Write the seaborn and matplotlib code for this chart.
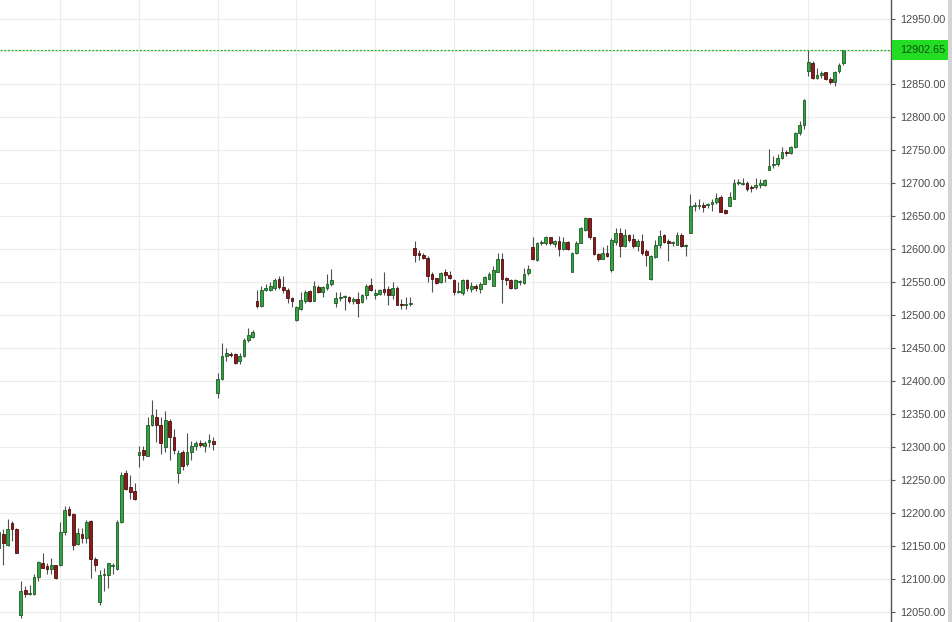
import numpy as np
import pandas as pd
import matplotlib
matplotlib.use("Agg")
import matplotlib.pyplot as plt
from matplotlib.patches import Rectangle
import seaborn as sns

# ---------------- data (OHLC per candle) ----------------
opens = [12147, 12168, 12152, 12185, 12176, 12045, 12084, 12077, 12077, 12103,
         12125, 12119, 12115, 12121, 12122, 12172, 12206, 12199, 12153, 12169,
         12162, 12188, 12131, 12065, 12106, 12106, 12119, 12115, 12187, 12261,
         12240, 12234, 12288, 12296, 12287, 12333, 12346, 12334, 12300, 12339,
         12315, 12261, 12292, 12274, 12292, 12301, 12307, 12302, 12308, 12309,
         12382, 12403, 12438, 12441, 12441, 12430, 12438, 12462, 12467, 12522,
         12514, 12539, 12538, 12541, 12555, 12543, 12539, 12526, 12493, 12510,
         12522, 12537, 12522, 12543, 12535, 12542, 12547, 12519, 12526, 12528,
         12527, 12521, 12524, 12520, 12531, 12546, 12531, 12532, 12540, 12540,
         12530, 12542, 12517, 12516, 12517, 12602, 12594, 12592, 12587, 12562,
         12556, 12550, 12566, 12561, 12554, 12535, 12533, 12554, 12540, 12544,
         12540, 12548, 12555, 12545, 12566, 12586, 12556, 12554, 12541, 12550,
         12549, 12564, 12604, 12584, 12609, 12609, 12618, 12608, 12613, 12600,
         12611, 12566, 12594, 12610, 12629, 12647, 12618, 12593, 12586, 12594,
         12569, 12611, 12624, 12605, 12621, 12615, 12605, 12612, 12597, 12555,
         12589, 12606, 12621, 12612, 12609, 12607, 12622, 12605, 12625, 12665,
         12666, 12667, 12667, 12668, 12671, 12679, 12660, 12666, 12677, 12700,
         12699, 12700, 12695, 12694, 12697, 12697, 12721, 12728, 12729, 12739,
         12748, 12746, 12755, 12777, 12788, 12870, 12883, 12860, 12864, 12869,
         12859, 12853, 12870, 12882]
highs = [12178, 12176, 12191, 12188, 12178, 12097, 12090, 12091, 12108, 12127,
         12140, 12125, 12132, 12122, 12186, 12210, 12211, 12200, 12177, 12177,
         12189, 12190, 12133, 12114, 12117, 12125, 12125, 12190, 12262, 12265,
         12257, 12245, 12302, 12302, 12345, 12371, 12358, 12346, 12355, 12342,
         12327, 12295, 12295, 12322, 12310, 12310, 12311, 12310, 12320, 12316,
         12412, 12458, 12450, 12445, 12443, 12443, 12465, 12481, 12477, 12539,
         12544, 12547, 12550, 12556, 12560, 12560, 12541, 12528, 12514, 12536,
         12539, 12539, 12552, 12546, 12545, 12562, 12570, 12535, 12535, 12531,
         12529, 12527, 12536, 12532, 12547, 12557, 12540, 12540, 12565, 12544,
         12550, 12545, 12525, 12527, 12527, 12612, 12599, 12595, 12590, 12565,
         12557, 12565, 12570, 12567, 12555, 12550, 12555, 12555, 12550, 12547,
         12550, 12560, 12566, 12574, 12595, 12594, 12558, 12555, 12555, 12554,
         12571, 12576, 12619, 12611, 12614, 12620, 12619, 12614, 12620, 12619,
         12613, 12596, 12613, 12634, 12649, 12648, 12619, 12594, 12604, 12607,
         12617, 12633, 12633, 12631, 12623, 12623, 12615, 12623, 12601, 12592,
         12614, 12630, 12623, 12615, 12612, 12627, 12624, 12608, 12684, 12672,
         12676, 12671, 12670, 12676, 12685, 12683, 12661, 12687, 12707, 12707,
         12708, 12703, 12697, 12708, 12706, 12706, 12752, 12742, 12744, 12755,
         12750, 12757, 12778, 12794, 12828, 12902, 12885, 12875, 12870, 12869,
         12862, 12870, 12882, 12903]
lows = [12140, 12122, 12150, 12158, 12139, 12041, 12072, 12076, 12075, 12097,
        12116, 12107, 12108, 12100, 12120, 12166, 12195, 12144, 12151, 12155,
        12155, 12102, 12112, 12060, 12082, 12087, 12107, 12114, 12185, 12235,
        12222, 12220, 12270, 12281, 12286, 12332, 12308, 12290, 12292, 12281,
        12290, 12246, 12265, 12272, 12280, 12295, 12300, 12293, 12300, 12295,
        12374, 12402, 12431, 12437, 12426, 12426, 12436, 12460, 12465, 12511,
        12512, 12537, 12537, 12539, 12540, 12533, 12518, 12512, 12492, 12508,
        12519, 12520, 12521, 12533, 12527, 12539, 12545, 12512, 12522, 12508,
        12519, 12517, 12497, 12518, 12524, 12537, 12525, 12530, 12530, 12516,
        12525, 12515, 12510, 12509, 12514, 12581, 12584, 12585, 12550, 12536,
        12547, 12549, 12551, 12555, 12530, 12534, 12530, 12537, 12535, 12537,
        12534, 12547, 12553, 12544, 12565, 12519, 12546, 12540, 12540, 12546,
        12547, 12561, 12584, 12583, 12607, 12606, 12606, 12604, 12590, 12599,
        12599, 12565, 12593, 12609, 12628, 12616, 12591, 12583, 12585, 12589,
        12565, 12607, 12589, 12604, 12611, 12602, 12597, 12592, 12575, 12553,
        12587, 12602, 12609, 12582, 12605, 12606, 12604, 12590, 12624, 12658,
        12661, 12657, 12662, 12658, 12669, 12656, 12653, 12665, 12676, 12698,
        12697, 12689, 12687, 12692, 12693, 12696, 12720, 12724, 12727, 12737,
        12742, 12744, 12753, 12774, 12783, 12863, 12858, 12858, 12860, 12857,
        12850, 12847, 12867, 12880]
closes = [12172, 12155, 12176, 12176, 12140, 12082, 12077, 12079, 12103, 12126,
          12117, 12115, 12121, 12101, 12172, 12205, 12197, 12152, 12170, 12162,
          12187, 12131, 12122, 12106, 12108, 12124, 12121, 12187, 12257, 12237,
          12232, 12222, 12293, 12288, 12333, 12348, 12333, 12306, 12341, 12315,
          12296, 12291, 12272, 12292, 12302, 12306, 12303, 12307, 12311, 12304,
          12403, 12438, 12442, 12440, 12428, 12438, 12462, 12470, 12475, 12514,
          12539, 12540, 12545, 12554, 12543, 12538, 12526, 12522, 12513, 12523,
          12536, 12522, 12544, 12535, 12543, 12548, 12553, 12526, 12527, 12529,
          12521, 12524, 12519, 12531, 12544, 12539, 12534, 12538, 12536, 12531,
          12542, 12516, 12516, 12517, 12518, 12591, 12591, 12587, 12560, 12555,
          12549, 12564, 12561, 12557, 12535, 12535, 12554, 12541, 12545, 12542,
          12547, 12558, 12562, 12568, 12585, 12555, 12553, 12541, 12553, 12551,
          12563, 12570, 12585, 12610, 12610, 12618, 12609, 12613, 12600, 12611,
          12600, 12595, 12610, 12632, 12647, 12618, 12593, 12585, 12595, 12590,
          12614, 12624, 12605, 12621, 12614, 12605, 12612, 12595, 12592, 12590,
          12607, 12620, 12611, 12609, 12609, 12622, 12605, 12605, 12665, 12666,
          12667, 12664, 12667, 12672, 12678, 12657, 12655, 12680, 12700, 12701,
          12701, 12691, 12693, 12698, 12700, 12705, 12727, 12729, 12739, 12748,
          12746, 12755, 12777, 12789, 12827, 12884, 12860, 12865, 12867, 12859,
          12853, 12869, 12880, 12902.65]
candle_index = list(range(-1, len(opens) - 1))
session_starts = [13, 31, 49, 67, 85, 103, 121, 139, 157, 184]
price_ticks = list(range(12050, 12951, 50))
last_price = 12902.65

# ---------------- styling ----------------
sns.set_theme(style="white")
plt.rcParams["font.family"] = ["Liberation Sans", "DejaVu Sans"]

W, H = 952, 622
fig = plt.figure(figsize=(W / 100, H / 100), dpi=100)
fig.patch.set_facecolor("white")
ax = fig.add_axes([0, 0, 891 / W, 1])
ax.set_facecolor("white")

df = pd.DataFrame({"i": candle_index, "open": opens, "high": highs,
                   "low": lows, "close": closes})
df["up"] = df["close"] >= df["open"]
df["bottom"] = df[["open", "close"]].min(axis=1)
df["height"] = (df["close"] - df["open"]).abs().clip(lower=1.6)

green_fill, green_edge = "#35a243", "#1d5a22"
red_fill, red_edge = "#8e1b1b", "#4a0e0e"

ax.vlines(df["i"], df["low"], df["high"], color="#505050", lw=0.8, zorder=2)
up = df[df["up"]]
dn = df[~df["up"]]
ax.bar(up["i"], up["height"], bottom=up["bottom"], width=0.64,
       color=green_fill, edgecolor=green_edge, linewidth=0.6, zorder=3)
ax.bar(dn["i"], dn["height"], bottom=dn["bottom"], width=0.64,
       color=red_fill, edgecolor=red_edge, linewidth=0.6, zorder=3)

ax.axhline(last_price, color="#22b522", lw=0.8, ls=(0, (2, 1.3)), zorder=4)

ax.set_xlim(-0.754, 202.9)
ax.set_ylim(12034.8, 12978.1)

# the 12900 label sits under the last-price tag, so it is left blank
ax.set_yticks(price_ticks)
ax.set_yticklabels(["" if abs(v - last_price) < 10 else f"{v:.2f}"
                    for v in price_ticks])
ax.yaxis.tick_right()
ax.set_xticks(session_starts)
ax.set_xticklabels([])
ax.tick_params(axis="x", length=0)
ax.tick_params(axis="y", right=True, length=3, width=0.8, color="#555555",
               labelsize=7.8, labelcolor="#4a4a4a", pad=3.5)
ax.grid(True, color="#ececec", lw=0.8, zorder=0)
ax.set_axisbelow(True)
for s in ["top", "left", "bottom"]:
    ax.spines[s].set_visible(False)
ax.spines["right"].set_color("#555555")
ax.spines["right"].set_linewidth(1.0)

# last price tag
fig.canvas.draw()
ypix = ax.transData.transform((0, last_price))[1]
tag = Rectangle((892 / W, (ypix - 10) / H), 56 / W, 20 / H,
                transform=fig.transFigure, facecolor="#22dd22",
                edgecolor="none", zorder=5)
fig.add_artist(tag)
fig.text(900 / W, ypix / H, f"{last_price:.2f}", fontsize=7.8,
         color="#114d11", va="center", ha="left", zorder=6)

# right border
fig.add_artist(Rectangle((948 / W, 0), 4 / W, 1, transform=fig.transFigure,
                         facecolor="#d4d4d4", edgecolor="none", zorder=5))

fig.savefig("out.png", dpi=100)
